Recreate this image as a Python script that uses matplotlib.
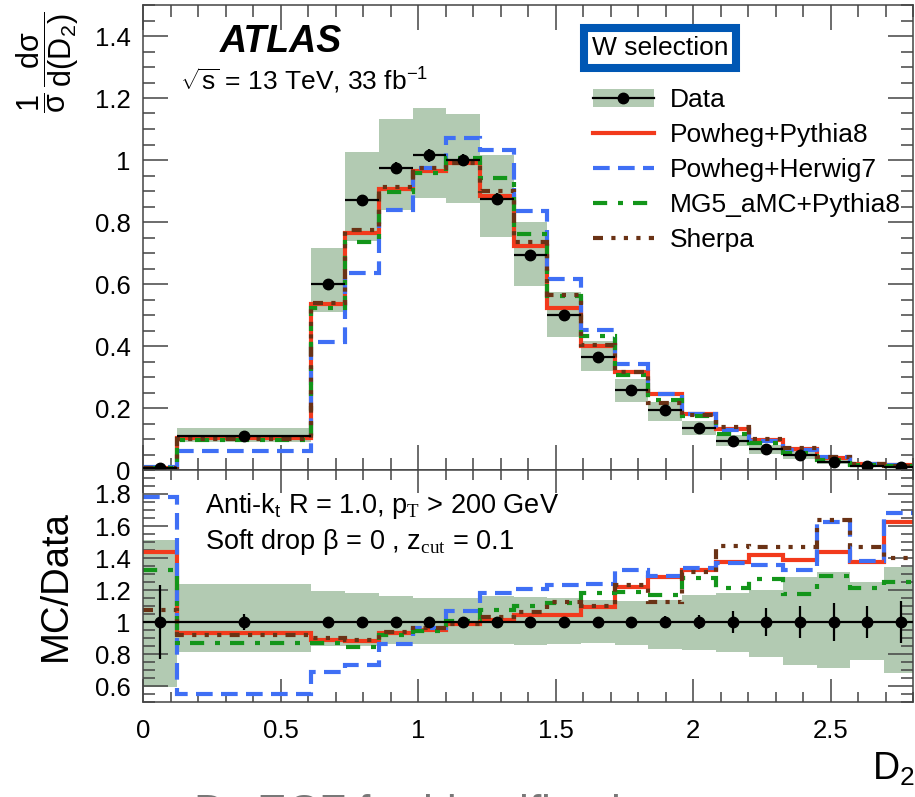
import matplotlib
matplotlib.use('Agg')
import matplotlib.pyplot as plt
import numpy as np
from matplotlib.patches import Patch
from matplotlib.lines import Line2D
from matplotlib.ticker import MultipleLocator, FuncFormatter

plt.rcParams['font.family'] = 'Liberation Sans'
plt.rcParams['mathtext.fontset'] = 'custom'
plt.rcParams['mathtext.rm'] = 'Liberation Sans'
plt.rcParams['mathtext.it'] = 'Liberation Sans:italic'
plt.rcParams['mathtext.bf'] = 'Liberation Sans:bold'
plt.rcParams['mathtext.sf'] = 'Liberation Serif'

# D2 binning
edges = [0, 0.1225, 0.6125, 0.735, 0.8575, 0.98, 1.1025, 1.225, 1.3475, 1.47,
         1.5925, 1.715, 1.8375, 1.96, 2.0825, 2.205, 2.3275, 2.45, 2.5725, 2.695, 2.8175]

# unfolded data, normalised
data = [0.005, 0.11, 0.60, 0.87, 0.975, 1.015, 1.0, 0.875, 0.693, 0.50,
        0.366, 0.258, 0.192, 0.136, 0.095, 0.068, 0.048, 0.026, 0.014, 0.010]
# relative stat. error on data
data_stat = [0.23, 0.05, 0.02, 0.02, 0.02, 0.02, 0.02, 0.02, 0.02, 0.02,
             0.03, 0.03, 0.035, 0.045, 0.07, 0.09, 0.10, 0.12, 0.10, 0.13]
# total uncertainty band (relative to data)
unc_lo = [0.596, 0.81, 0.85, 0.85, 0.86, 0.865, 0.86, 0.86, 0.855, 0.86,
          0.87, 0.856, 0.83, 0.825, 0.81, 0.78, 0.73, 0.71, 0.76, 0.68]
unc_hi = [1.51, 1.24, 1.196, 1.18, 1.16, 1.15, 1.15, 1.16, 1.155, 1.15,
          1.14, 1.133, 1.135, 1.17, 1.18, 1.20, 1.283, 1.315, 1.25, 1.345]

# MC / Data
r_powpy = [1.44, 0.93, 0.89, 0.88, 0.93, 0.95, 0.99, 1.01, 1.045, 1.045,
           1.096, 1.22, 1.283, 1.325, 1.377, 1.42, 1.39, 1.44, 1.377, 1.627]
r_powhw = [1.78, 0.55, 0.69, 0.73, 0.86, 0.96, 1.07, 1.18, 1.205, 1.23,
           1.237, 1.325, 1.285, 1.34, 1.37, 1.356, 1.325, 1.627, 1.38, 1.68]
r_mg5 = [1.325, 0.87, 0.87, 0.846, 0.92, 0.945, 1.005, 1.075, 1.10, 1.12,
         1.18, 1.19, 1.17, 1.275, 1.21, 1.267, 1.175, 1.29, 1.21, 1.25]
r_sherpa = [1.075, 0.92, 0.90, 0.89, 0.935, 0.96, 0.99, 1.03, 1.06, 1.127,
            1.10, 1.23, 1.127, 1.31, 1.475, 1.47, 1.47, 1.64, 1.47, 1.40]

labels = ['Data', 'Powheg+Pythia8', 'Powheg+Herwig7', 'MG5_aMC+Pythia8', 'Sherpa']

edges = np.array(edges)
data = np.array(data)
centers = 0.5 * (edges[1:] + edges[:-1])
halfw = 0.5 * (edges[1:] - edges[:-1])

band_col = '#b2cab2'
mc = [
    (r_powpy, '#f23a1c', '-'),
    (r_powhw, '#3f6ff5', (0, (4, 2))),
    (r_mg5, '#13951a', (0, (3.4, 2.6, 1.2, 2.4))),
    (r_sherpa, '#6a3215', (0, (2.4, 2, 1, 2, 1, 2, 1, 2))),
]

W, H = 915, 797
def box(l, t, r, b):
    return [l / W, 1 - b / H, (r - l) / W, (b - t) / H]

fig = plt.figure(figsize=(9.15, 7.97), dpi=100)
ax = fig.add_axes(box(143, 5, 913, 470))
rax = fig.add_axes(box(143, 470, 913, 702))

fmt = FuncFormatter(lambda v, p: f'{v:g}')

# ---- top panel ----
ax.stairs(data * np.array(unc_hi), edges, baseline=data * np.array(unc_lo),
          fill=True, color=band_col, lw=0, zorder=1)
for r, c, ls in mc:
    ax.stairs(data * np.array(r), edges, baseline=None, color=c, lw=3,
              linestyle=ls, zorder=2)
ax.errorbar(centers, data, xerr=halfw, yerr=data * np.array(data_stat),
            fmt='o', color='k', ms=7.5, elinewidth=1.6, capsize=0, zorder=3)
ax.set_xlim(0, 2.8)
ax.set_ylim(0, 1.5)
ax.yaxis.set_major_locator(MultipleLocator(0.2))
ax.yaxis.set_minor_locator(MultipleLocator(0.05))
ax.xaxis.set_major_locator(MultipleLocator(0.5))
ax.xaxis.set_minor_locator(MultipleLocator(0.1))
ax.yaxis.set_major_formatter(fmt)
ax.tick_params(labelbottom=False)

# ---- ratio panel ----
rax.stairs(unc_hi, edges, baseline=unc_lo, fill=True, color=band_col, lw=0, zorder=1)
for r, c, ls in mc:
    rax.stairs(r, edges, baseline=None, color=c, lw=3, linestyle=ls, zorder=2)
rax.errorbar(centers, np.ones(len(centers)), xerr=halfw, yerr=data_stat,
             fmt='o', color='k', ms=7.5, elinewidth=1.6, capsize=0, zorder=3)
rax.set_xlim(0, 2.8)
rax.set_ylim(0.5, 1.95)
rax.yaxis.set_major_locator(MultipleLocator(0.2))
rax.yaxis.set_minor_locator(MultipleLocator(0.05))
rax.xaxis.set_major_locator(MultipleLocator(0.5))
rax.xaxis.set_minor_locator(MultipleLocator(0.1))
rax.yaxis.set_major_formatter(fmt)
rax.xaxis.set_major_formatter(fmt)

for a in (ax, rax):
    a.tick_params(which='both', direction='in', top=True, right=True,
                  labelsize=18.5, color='#444', width=1.1)
    a.tick_params(which='major', length=18)
    a.tick_params(which='minor', length=8.5)
    a.tick_params(axis='y', pad=9)
    for s in a.spines.values():
        s.set_color('#444')
        s.set_linewidth(1.1)
rax.tick_params(axis='x', which='major', length=16.5, pad=12)
rax.tick_params(axis='x', which='minor', length=7)

# labels
fig.text(48 / W, 1 - 62 / H,
         r'$\dfrac{1}{\mathrm{\sigma}}\,\dfrac{\mathrm{d\sigma}}{\mathrm{d}(\mathrm{D}_2)}$',
         rotation=90, ha='center', va='center', fontsize=22)
fig.text(56 / W, 1 - 586 / H, 'MC/Data', rotation=90, ha='center', va='center',
         fontsize=27.5)
fig.text(872 / W, 1 - 780 / H, r'D$_2$', ha='left', va='baseline', fontsize=27)

fig.text(220 / W, 1 - 52 / H, 'ATLAS', fontsize=27, fontweight='bold',
         fontstyle='italic', va='baseline')
fig.text(180 / W, 1 - 90 / H, r'$\sqrt{\mathrm{s}}$ = 13 TeV, 33 fb$^{-1}$',
         fontsize=19, va='baseline')
fig.text(205 / W, 1 - 513 / H,
         r'Anti-k$_\mathrm{t}$ R = 1.0, p$_{\mathsf{T}}$ > 200 GeV',
         fontsize=19.5, va='baseline')
fig.text(205 / W, 1 - 549 / H, r'Soft drop β = 0 , z$_{\mathsf{cut}}$ = 0.1',
         fontsize=19.5, va='baseline')

fig.text(660 / W, 1 - 48 / H, 'W selection', fontsize=19, ha='center', va='center',
         bbox=dict(boxstyle='square,pad=0.3', facecolor='white',
                   edgecolor='#0057b4', linewidth=5.8))

# legend
handles = [
    (Patch(facecolor=band_col, edgecolor='none'),
     Line2D([], [], color='k', marker='o', ms=7.5, lw=1.6)),
]
for r, c, ls in mc:
    handles.append(Line2D([], [], color=c, lw=3, linestyle=ls))
fig.legend(handles, labels, loc='upper left', bbox_to_anchor=(593 / W, 1 - 88 / H),
           frameon=False, fontsize=19, handlelength=2.3, handletextpad=0.6,
           labelspacing=0.42, borderpad=0, borderaxespad=0)

# slide caption below the figure
fig.text(193 / W, 1 - 827 / H, r'D$_2$ ECF for identification', fontsize=32,
         color='#787878', va='baseline')

fig.savefig('out.png', dpi=100)
